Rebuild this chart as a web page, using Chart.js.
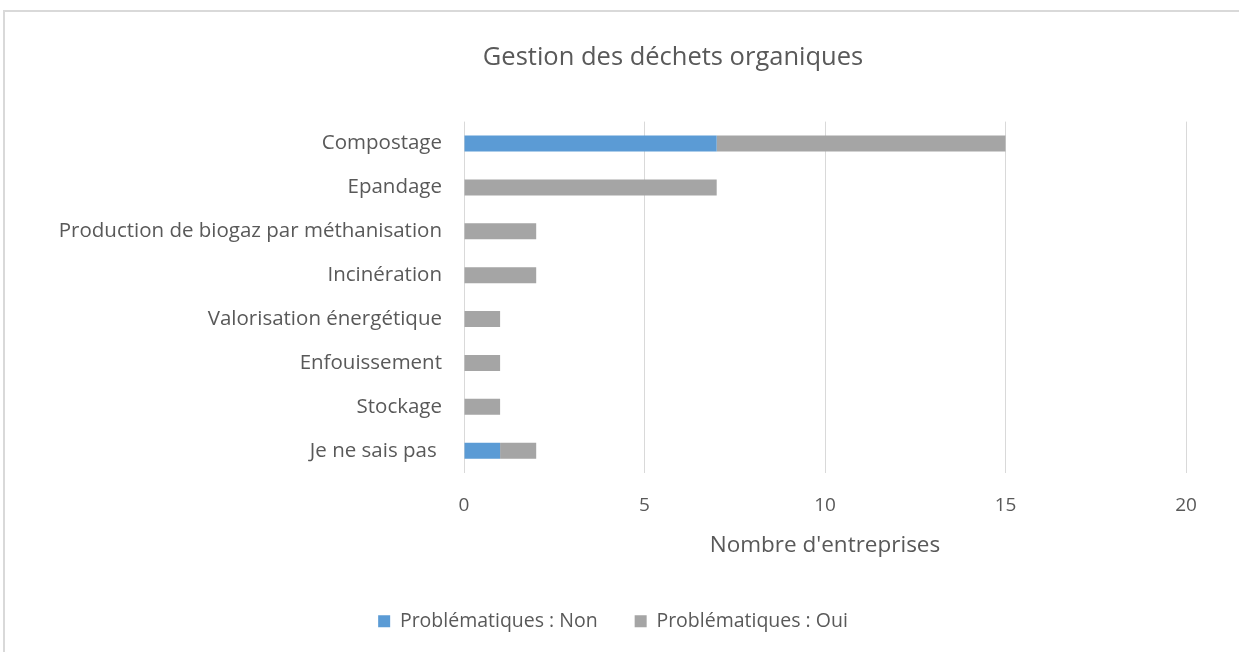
<!DOCTYPE html>
<html lang="fr">
<head>
    <meta charset="UTF-8">
    <title>Gestion des déchets organiques</title>
    <script src="https://cdn.jsdelivr.net/npm/chart.js"></script>
    <style>
        html, body { margin: 0; background: #fff; overflow: hidden; }
        #cadre {
            position: absolute; left: 3px; top: 10px; width: 1236px; height: 642px;
            border-top: 2px solid #d9d9d9; border-left: 2px solid #d9d9d9; overflow: hidden;
        }
        #zone { position: absolute; left: 0; top: 0; width: 1234px; height: 629px; }
    </style>
</head>
<body>
    <div id="cadre">
        <div id="zone"><canvas id="graphique"></canvas></div>
    </div>

    <script>
        // Données
        var categories = ['Compostage', 'Epandage', 'Production de biogaz par méthanisation', 'Incinération',
                          'Valorisation énergétique', 'Enfouissement', 'Stockage', 'Je ne sais pas '];
        var problemesNon = [7, 0, 0, 0, 0, 0, 0, 1];
        var problemesOui = [8, 7, 2, 2, 1, 1, 1, 1];
        var graduations = [0, 5, 10, 15, 20];

        var gris = '#595959';
        Chart.defaults.font.family = '"Open Sans", sans-serif';
        Chart.defaults.color = gris;

        // Recentre le titre et la légende comme dans Excel
        var recentrage = {
            id: 'recentrage',
            afterLayout: function (chart) {
                if (chart.titleBlock) {
                    chart.titleBlock.left += 155;
                }
                if (chart.legend) {
                    chart.legend.left += 35;
                }
            }
        };

        var ctx = document.getElementById('graphique').getContext('2d');
        var graphique = new Chart(ctx, {
            type: 'bar',
            data: {
                labels: categories,
                datasets: [{
                    label: 'Problématiques : Non',
                    data: problemesNon,
                    backgroundColor: '#5B9BD5',
                    borderWidth: 0,
                    inflateAmount: 0,
                    barThickness: 16
                }, {
                    label: 'Problématiques : Oui',
                    data: problemesOui,
                    backgroundColor: '#A5A5A5',
                    borderWidth: 0,
                    inflateAmount: 0,
                    barThickness: 16
                }]
            },
            options: {
                indexAxis: 'y',
                responsive: true,
                maintainAspectRatio: false,
                animation: false,
                layout: { padding: { left: 0, right: 53, top: 0, bottom: 0 } },
                plugins: {
                    title: {
                        display: true,
                        text: 'Gestion des déchets organiques',
                        color: gris,
                        font: { size: 25.5, weight: 'normal' },
                        padding: { top: 30, bottom: 49 }
                    },
                    legend: {
                        position: 'bottom',
                        labels: {
                            boxWidth: 12, boxHeight: 12,
                            font: { size: 19.5 },
                            color: gris,
                            padding: 37
                        }
                    },
                    tooltip: { enabled: false }
                },
                scales: {
                    x: {
                        stacked: true,
                        min: 0, max: 20,
                        afterBuildTicks: function (axe) {
                            axe.ticks = graduations.map(function (v) { return { value: v }; });
                        },
                        grid: { color: '#d9d9d9', lineWidth: 1, drawTicks: false },
                        border: { display: false },
                        ticks: { font: { size: 19 }, color: gris, padding: 21 },
                        title: {
                            display: true,
                            text: "Nombre d'entreprises",
                            font: { size: 22.5 },
                            color: gris,
                            padding: { top: -5, bottom: 15 }
                        }
                    },
                    y: {
                        stacked: true,
                        afterFit: function (axe) { axe.width = 459; },
                        grid: { display: false, drawTicks: false },
                        border: { display: false },
                        ticks: { font: { size: 20.5 }, color: gris, padding: 22 }
                    }
                }
            },
            plugins: [recentrage]
        });
    </script>
</body>
</html>
